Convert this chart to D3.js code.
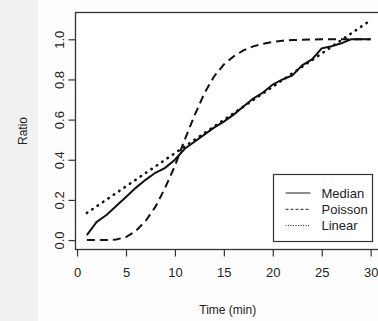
<!DOCTYPE html>
<html>
<head>
<meta charset="utf-8">
<script src="https://cdn.jsdelivr.net/npm/d3@7"></script>
<style>
  html, body { margin: 0; padding: 0; background: #fff; }
  svg { display: block; }
</style>
</head>
<body>
<div id="chart"></div>
<script>
// data
const times = [1, 2, 3, 4, 5, 6, 7, 8, 9, 10, 11, 12, 13, 14, 15,
  16, 17, 18, 19, 20, 21, 22, 23, 24, 25, 26, 27, 28, 29, 30];
const median = [0.025, 0.09, 0.125, 0.17, 0.215, 0.26, 0.30, 0.335, 0.36, 0.40,
  0.455, 0.49, 0.525, 0.56, 0.59, 0.625, 0.665, 0.705, 0.735, 0.775,
  0.80, 0.82, 0.87, 0.90, 0.955, 0.965, 0.98, 1.0, 1.0, 1.0];
const poisson = [0.0, 0.0, 0.0, 0.003, 0.015, 0.045, 0.095, 0.165, 0.26, 0.37,
  0.50, 0.62, 0.73, 0.815, 0.875, 0.915, 0.945, 0.965, 0.978, 0.987,
  0.993, 0.996, 0.998, 0.999, 1.0, 1.0, 1.0, 1.0, 1.0, 1.0];
const linearTimes = [1, 30];
const linear = [0.135, 1.095];
const xTicks = [0, 5, 10, 15, 20, 25, 30];
const yTicks = [0.0, 0.2, 0.4, 0.6, 0.8, 1.0];
const legendLabels = ['Median', 'Poisson', 'Linear'];

const width = 378, height = 321;
const box = { left: 75.5, right: 382, top: 12.5, bottom: 249.5 };
const font = '"Liberation Sans", Arial, sans-serif';

const svg = d3.select('#chart')
  .append('svg')
  .attr('width', width)
  .attr('height', height);

// faint grey on the left edge like the scan
svg.append('rect').attr('width', width).attr('height', height).attr('fill', '#fdfdfd');
svg.append('rect').attr('width', 38).attr('height', height).attr('fill', '#f1f1f1');

const x = d3.scaleLinear().domain([-0.16, 31.16]).range([box.left, box.right]);
const y = d3.scaleLinear().domain([-0.047, 1.1335]).range([box.bottom, box.top]);

// plot box
svg.append('rect')
  .attr('x', box.left).attr('y', box.top)
  .attr('width', box.right - box.left).attr('height', box.bottom - box.top)
  .attr('fill', '#fff').attr('stroke', '#333').attr('stroke-width', 1.3);

// axes
const xAxis = svg.append('g')
  .attr('transform', `translate(0,${box.bottom})`)
  .call(d3.axisBottom(x).tickValues(xTicks).tickSize(7).tickPadding(11).tickFormat(d3.format('d')));
const yAxis = svg.append('g')
  .attr('transform', `translate(${box.left},0)`)
  .call(d3.axisLeft(y).tickValues(yTicks).tickSize(7).tickPadding(9).tickFormat(d3.format('.1f')));

[xAxis, yAxis].forEach(g => {
  g.select('.domain').remove();
  g.selectAll('.tick line').attr('stroke', '#333').attr('stroke-width', 1.2);
  g.selectAll('.tick text')
    .attr('fill', '#222')
    .style('font-family', font)
    .style('font-size', '13px');
});

// y tick labels are turned like in R
yAxis.selectAll('.tick text')
  .attr('text-anchor', 'middle')
  .attr('x', 0).attr('dy', null)
  .attr('transform', 'translate(-15,0) rotate(-90)')
  .attr('dominant-baseline', 'middle');

// axis titles
svg.append('text')
  .attr('x', (box.left + box.right) / 2 - 1).attr('y', 314)
  .attr('text-anchor', 'middle')
  .attr('fill', '#222')
  .style('font-family', font).style('font-size', '12px')
  .text('Time (min)');
svg.append('text')
  .attr('transform', `translate(27,${(box.top + box.bottom) / 2}) rotate(-90)`)
  .attr('text-anchor', 'middle')
  .attr('fill', '#222')
  .style('font-family', font).style('font-size', '12px')
  .text('Ratio');

// lines
const line = d3.line().x(d => x(d[0])).y(d => y(d[1]));
const plot = svg.append('g').attr('fill', 'none').attr('stroke', '#111');

plot.append('path')
  .datum(d3.zip(linearTimes, linear))
  .attr('d', line)
  .attr('stroke-width', 2.6)
  .attr('stroke-linecap', 'round')
  .attr('stroke-dasharray', '0.5,6');

plot.append('path')
  .datum(d3.zip(times, poisson))
  .attr('d', line)
  .attr('stroke-width', 2)
  .attr('stroke-dasharray', '8,5');

plot.append('path')
  .datum(d3.zip(times, median))
  .attr('d', line)
  .attr('stroke-width', 2);

// legend
const legend = svg.append('g').attr('transform', 'translate(273.5,174.5)');
legend.append('rect')
  .attr('width', 99).attr('height', 67)
  .attr('fill', '#fff').attr('stroke', '#333').attr('stroke-width', 1.2);
const dashes = [null, '3,2', '1,1.5'];
legendLabels.forEach((label, i) => {
  const ly = 18.5 + i * 16.3;
  legend.append('line')
    .attr('x1', 12).attr('x2', 37).attr('y1', ly).attr('y2', ly)
    .attr('stroke', '#222').attr('stroke-width', 1)
    .attr('stroke-dasharray', dashes[i]);
  legend.append('text')
    .attr('x', 48).attr('y', ly)
    .attr('dy', '0.35em')
    .attr('fill', '#222')
    .style('font-family', font).style('font-size', '13px')
    .text(label);
});
</script>
</body>
</html>
